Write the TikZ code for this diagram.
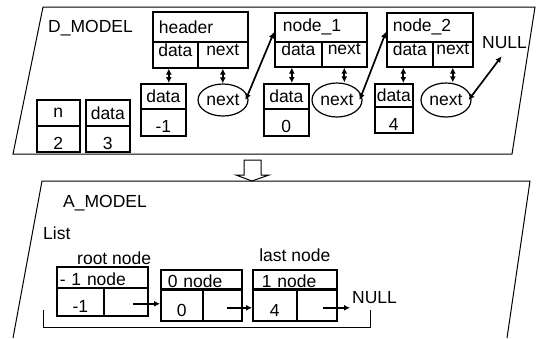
\documentclass[tikz,border=0pt]{standalone}
\usepackage{fontspec}
\setmainfont{Liberation Sans}
\usetikzlibrary{positioning,arrows.meta,shapes.geometric}

\begin{document}
\begin{tikzpicture}[
  x=1pt, y=-1pt,
  every node/.style={font=\fontsize{17.5}{20}\selectfont, inner sep=2pt},
  cell/.style={draw, line width=1.6pt, inner sep=0pt, anchor=north west},
  capcell/.style={cell, align=left},
  field/.style={cell, text depth=10pt},
  val/.style={cell, text height=21pt, text depth=0pt},
  oval/.style={draw, ellipse, line width=1.2pt, inner sep=0pt,
    minimum width=50pt, minimum height=32pt},
  link/.style={{Latex[length=6pt,width=6pt]}-{Latex[length=6pt,width=6pt]}, line width=1.7pt},
  ptr/.style={-{Latex[length=6pt,width=6pt]}, line width=1.7pt},
  frame/.style={line width=1pt},
]
  \useasboundingbox (0,0) rectangle (537,338);

  % D_MODEL
  \draw[frame] (43,7) -- (535,7) -- (512,154) -- (13,154) -- cycle;
  \node[anchor=base west] (dmodel) at (46,32) {D\_MODEL};

  \node[cell, minimum width=43pt, minimum height=26pt] (nkey) at (36,99) {n};
  \node[val, minimum width=43pt, minimum height=26pt] (nval) at (36,125) {2};
  \node[cell, minimum width=44pt, minimum height=26pt] (dkey) at (85,99) {data};
  \node[val, minimum width=44pt, minimum height=26pt] (dval) at (85,125) {3};

  \node[capcell, text width=83pt, inner xsep=6pt, minimum height=30pt] (hdr) at (152,11) {header};
  \node[field, minimum width=45pt, minimum height=26pt] (hdata) at (152,41) {data};
  \node[field, minimum width=50pt, minimum height=26pt] (hnext) at (197,41) {next};
  \node[cell, minimum width=45pt, minimum height=25pt] (d0) at (140,83) {data};
  \node[val, minimum width=45pt, minimum height=27pt] (v0) at (140,108) {-1};
  \node[oval] (e0) at (223,100) {next};

  \node[capcell, text width=76pt, inner xsep=8pt, minimum height=29pt] (n1t) at (274,12) {node\_1};
  \node[field, minimum width=47pt, minimum height=25pt] (n1data) at (274,41) {data};
  \node[field, minimum width=45pt, minimum height=25pt] (n1next) at (321,41) {next};
  \node[cell, minimum width=45pt, minimum height=25pt] (d1) at (263,83) {data};
  \node[val, minimum width=45pt, minimum height=27pt] (v1) at (263,108) {0};
  \node[oval, minimum height=34pt] (e1) at (337,100) {next};

  \node[capcell, text width=74pt, inner xsep=6pt, minimum height=29pt] (n2t) at (386,12) {node\_2};
  \node[field, minimum width=46pt, minimum height=25pt] (n2data) at (386,41) {data};
  \node[field, minimum width=40pt, minimum height=25pt] (n2next) at (432,41) {next};
  \node[cell, minimum width=38pt, minimum height=23pt] (d2) at (374,83) {data};
  \node[val, minimum width=38pt, minimum height=26pt] (v2) at (374,106) {4};
  \node[oval, minimum height=34pt] (e2) at (446,100) {next};

  \node[anchor=base west] (null1) at (480,48) {NULL};

  \draw[link] ([xshift=-6.5pt]hdata.south) -- ([xshift=-6.5pt]hdata.south |- d0.north);
  \draw[link] (hnext.south) -- (hnext.south |- e0.north);
  \draw[link] ([xshift=-6.5pt]n1data.south) -- ([xshift=-6.5pt]n1data.south |- d1.north);
  \draw[link] (n1next.south) -- (n1next.south |- e1.north);
  \draw[link] ([xshift=-6.5pt]n2data.south) -- ([xshift=-6.5pt]n2data.south |- d2.north);
  \draw[link] (n2next.south) -- (n2next.south |- e2.north);

  \draw[link] ([xshift=-3pt]e0.east) -- (n1t.186);
  \draw[link] ([xshift=-3pt]e1.east) -- (n2t.186);
  \draw[link] ([xshift=-3pt]e2.east) -- ([yshift=-6pt]null1.250);

  % hollow arrow
  \draw[frame, fill=white] (244,160) -- (261,160) -- (261,175) -- (269,175)
    -- (252,181) -- (236,175) -- (244,175) -- cycle;

  % A_MODEL
  \draw[frame] (13,338) -- (42,181) -- (530,181) -- (507,338);
  \node[anchor=base west] (amodel) at (61,207) {A\_MODEL};
  \node[anchor=base west] (list) at (41,239) {List};

  \node[capcell, text width=85pt, inner xsep=3pt, inner ysep=1pt,
    text height=18pt, text depth=1pt] (rt) at (56,266) {- 1 node};
  \node[val, minimum width=47pt, minimum height=28pt, text height=22pt] (rval) at (56,287) {-1};
  \node[cell, minimum width=44pt, minimum height=28pt] (rnext) at (103,287) {};
  \node[anchor=base west] (rootlbl) at (75,264) {root node};

  \node[capcell, text width=67pt, inner xsep=7pt, inner ysep=1pt,
    text height=17pt, text depth=0pt] (zt) at (160,269) {0 node};
  \node[val, minimum width=42pt, minimum height=31pt, text height=22pt] (zval) at (160,289) {0};
  \node[cell, minimum width=39pt, minimum height=31pt] (znext) at (202,289) {};

  \node[capcell, text width=66pt, inner xsep=9pt, inner ysep=1pt,
    text height=17pt, text depth=0pt] (lt) at (252,269) {1 node};
  \node[val, minimum width=44pt, minimum height=31pt, text height=22pt] (lval) at (252,289) {4};
  \node[cell, minimum width=40pt, minimum height=31pt] (lnext) at (296,289) {};
  \node[above=5pt of lt] (lastlbl) {last node};

  \node[anchor=base west] (null2) at (350,303) {NULL};

  \draw[ptr, shorten <=7pt] ([yshift=-2pt]rnext.center) -- ([yshift=-2pt]rnext.center -| zval.west);
  \draw[ptr, shorten <=5pt] ([yshift=-2.5pt]znext.center) -- ([yshift=-2.5pt]znext.center -| lval.west);
  \draw[ptr, shorten <=6pt] ([yshift=-2.5pt]lnext.center) -- ([yshift=-2.5pt]lnext.center -| null2.west);

  % list bracket
  \draw[frame] (43,310) -- (43,327) -- (370,327) -- (370,310);
\end{tikzpicture}
\end{document}
